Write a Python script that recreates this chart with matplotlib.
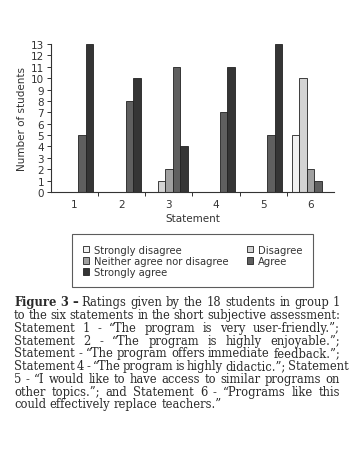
import numpy as np
import matplotlib
matplotlib.use('Agg')
import matplotlib.pyplot as plt

# data
statements = ['1', '2', '3', '4', '5', '6']
categories = ['Strongly disagree', 'Disagree', 'Neither agree nor disagree',
              'Agree', 'Strongly agree']
strongly_disagree = [0, 0, 0, 0, 0, 5]
disagree = [0, 0, 1, 0, 0, 10]
neither = [0, 0, 2, 0, 0, 2]
agree = [5, 8, 11, 7, 5, 1]
strongly_agree = [13, 10, 4, 11, 13, 0]
series = [strongly_disagree, disagree, neither, agree, strongly_agree]
colors = ['#f2f2f2', '#d3d3d3', '#a0a0a0', '#5f5f5f', '#353535']

caption_lines = [
    'Figure 3 – Ratings given by the 18 students in group 1',
    'to the six statements in the short subjective assessment:',
    'Statement 1 - “The program is very user-friendly.”;',
    'Statement 2 - “The program is highly enjoyable.”;',
    'Statement - “The program offers immediate feedback.”;',
    'Statement 4 - “The program is highly didactic.”; Statement',
    '5 - “I would like to have access to similar programs on',
    'other topics.”; and Statement 6 - “Programs like this',
    'could effectively replace teachers.”',
]

W, H = 354, 460
fig = plt.figure(figsize=(W / 100, H / 100), dpi=100)
ax = fig.add_axes([51 / W, 1 - 193 / H, 283 / W, 148 / H])

x = np.arange(1, len(statements) + 1)
bw = 0.16
bars = []
for i, (vals, c) in enumerate(zip(series, colors)):
    b = ax.bar(x + (i - 2) * bw, vals, bw, color=c, edgecolor='#222222',
               linewidth=0.6, label=categories[i])
    bars.append(b)

ax.set_xlim(0.5, 6.5)
ax.set_ylim(0, 13)
ax.set_yticks(range(0, 14))
ax.set_xticks(x)
ax.set_xticklabels(statements)
ax.set_xticks(np.arange(1.5, 6, 1), minor=True)
ax.tick_params(axis='x', which='major', length=0, labelsize=7.5, pad=5,
               colors='#333333')
ax.tick_params(axis='x', which='minor', length=3, width=0.7, color='#333333')
ax.tick_params(axis='y', length=3, width=0.7, labelsize=7.5, pad=2,
               colors='#333333')
for s in ['top', 'right']:
    ax.spines[s].set_visible(False)
for s in ['left', 'bottom']:
    ax.spines[s].set_linewidth(0.8)
    ax.spines[s].set_color('#333333')
ax.set_xlabel('Statement', fontsize=7.5, color='#333333', labelpad=3)
ax.set_ylabel('Number of students', fontsize=7.5, color='#333333', labelpad=3)

order = [0, 2, 4, 1, 3]
leg = fig.legend([bars[i] for i in order], [categories[i] for i in order],
                 ncol=2, loc='upper left',
                 bbox_to_anchor=(72 / W, 1 - 235 / H - 0.01, 241 / W, 0.01),
                 mode='expand', fontsize=7.2, frameon=True, fancybox=False,
                 handlelength=0.65, handleheight=0.65, handletextpad=0.5,
                 labelspacing=0.12, borderpad=1.05, columnspacing=1.0,
                 borderaxespad=0)
leg.get_frame().set_edgecolor('#333333')
leg.get_frame().set_linewidth(0.8)
for t in leg.get_texts():
    t.set_color('#333333')

# justified caption
renderer = fig.canvas.get_renderer()
cap_font = dict(fontsize=8.3, family='DejaVu Serif', color='#2a2a2a')
x0, x1 = 14, 340
y_first, dy = 303, 12.75
bold_words = {'Figure', '3', '–'}


def word_width(w, weight):
    t = fig.text(0, 0, w, fontweight=weight, **cap_font)
    wd = t.get_window_extent(renderer).width
    t.remove()
    return wd


space = word_width('a a', 'normal') - 2 * word_width('a', 'normal')
for li, line in enumerate(caption_lines):
    words = line.split(' ')
    weights = []
    for wi, w in enumerate(words):
        weights.append('bold' if (li == 0 and wi < 3 and w in bold_words) else 'normal')
    widths = [word_width(w, wt) for w, wt in zip(words, weights)]
    last = li == len(caption_lines) - 1
    if last:
        gap = space
    else:
        gap = max((x1 - x0 - sum(widths)) / (len(words) - 1), 0.6 * space)
    xp = x0
    yc = 1 - (y_first + li * dy) / H
    for w, wt, wd in zip(words, weights, widths):
        fig.text(xp / W, yc, w, fontweight=wt, va='center', ha='left', **cap_font)
        xp += wd + gap

fig.savefig('out.png', dpi=100)
